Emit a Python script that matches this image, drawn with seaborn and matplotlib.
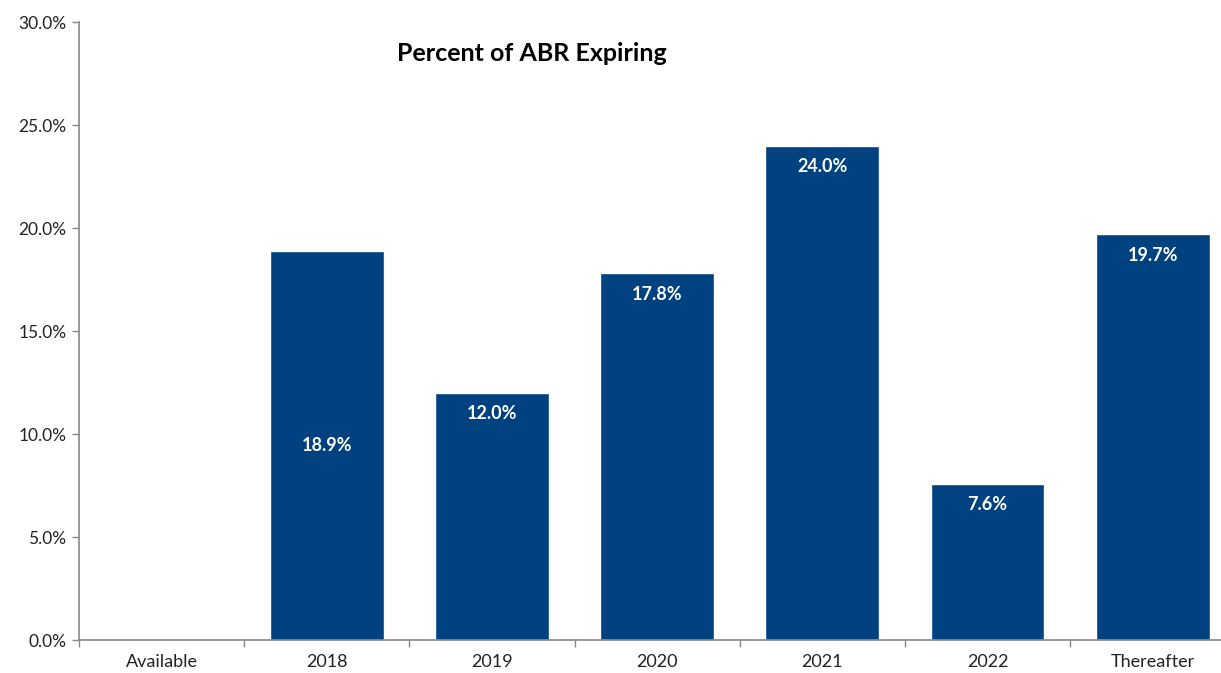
import numpy as np
import pandas as pd
import seaborn as sns
import matplotlib.pyplot as plt
from matplotlib.ticker import FixedLocator, PercentFormatter

# données du graphique
categories = ["Available", "2018", "2019", "2020", "2021", "2022", "Thereafter"]
pct_abr = [0.0, 18.9, 12.0, 17.8, 24.0, 7.6, 19.7]
label_pos = ["none", "center", "top", "top", "top", "top", "top"]

df = pd.DataFrame({"periode": categories, "pct": pct_abr})

sns.set_theme(style="white")
plt.rcParams["font.family"] = ["Lato", "DejaVu Sans"]

fig = plt.figure(figsize=(12.21, 6.73), dpi=100)
# l'axe dépasse légèrement à droite, comme dans l'original
ax = fig.add_axes([0.0647, 0.049, 0.947, 0.918])

bleu = "#00427F"
sns.barplot(data=df, x="periode", y="pct", color=bleu, saturation=1,
            width=0.69, ax=ax)

# étiquettes dans les barres
for i, (v, pos) in enumerate(zip(pct_abr, label_pos)):
    if pos == "none":
        continue
    if pos == "center":
        ax.text(i, v / 2, f"{v:.1f}%", ha="center", va="center",
                color="white", fontsize=13, fontweight="bold")
    else:
        ax.annotate(f"{v:.1f}%", (i, v), xytext=(0, -15),
                    textcoords="offset points", ha="center", va="center",
                    color="white", fontsize=13, fontweight="bold")

ax.set_ylim(0, 30)
ax.set_xlim(-0.5, len(categories) - 0.5)
ax.set_yticks(np.arange(0, 31, 5))
ax.yaxis.set_major_formatter(PercentFormatter(decimals=1))
ax.set_xlabel("")
ax.set_ylabel("")

# graduations entre les catégories
ax.xaxis.set_minor_locator(FixedLocator(np.arange(-0.5, len(categories), 1)))
ax.tick_params(axis="x", which="major", length=0, pad=10, labelsize=13, colors="#222222")
ax.tick_params(axis="x", which="minor", length=5, width=1, color="#888888", bottom=True)
ax.tick_params(axis="y", length=5, width=1, color="#888888", left=True,
               labelsize=12.5, labelcolor="#222222", pad=4)

sns.despine(ax=ax)
for s in ["left", "bottom"]:
    ax.spines[s].set_color("#888888")
    ax.spines[s].set_linewidth(1.2)

ax.text(0.392, 0.95, "Percent of ABR Expiring", transform=ax.transAxes,
        ha="center", va="center", fontsize=18, fontweight="bold", color="black")

plt.savefig("out.png", dpi=100)
